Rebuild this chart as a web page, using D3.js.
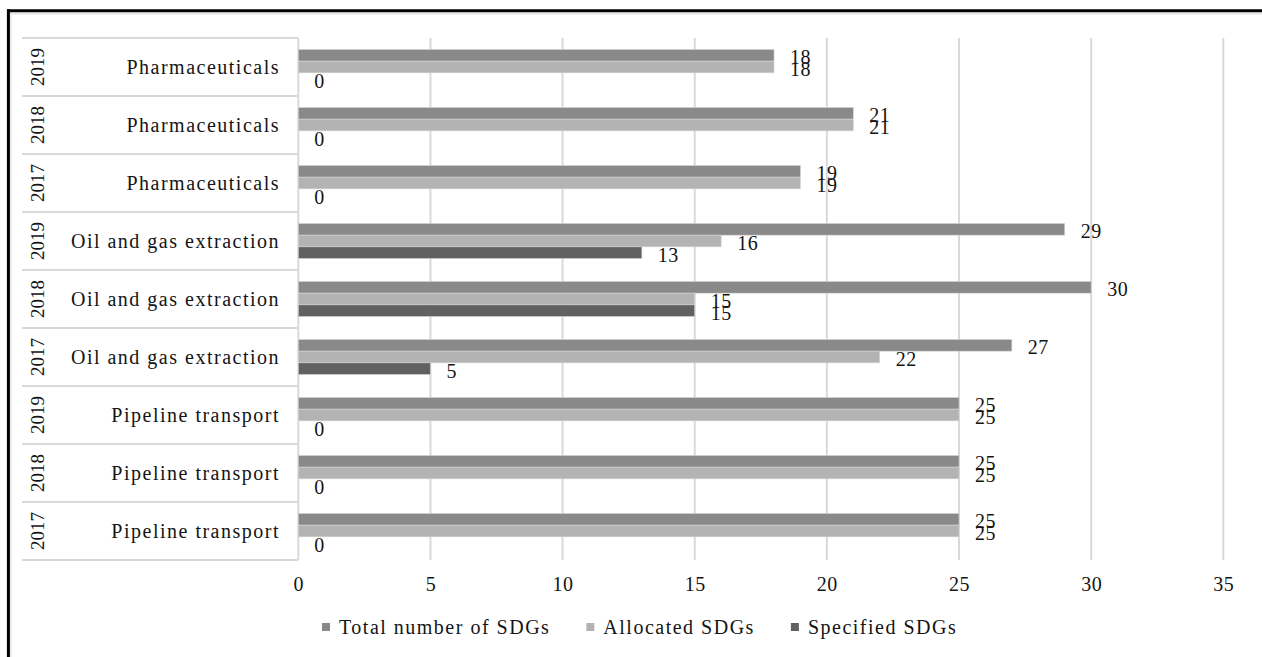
<!DOCTYPE html>
<html>
<head>
<meta charset="utf-8">
<script src="https://cdn.jsdelivr.net/npm/d3@7"></script>
<style>
  html, body { margin: 0; padding: 0; background: #fff; }
  svg { display: block; }
</style>
</head>
<body>
<svg id="chart" width="1262" height="657"></svg>
<script>
// Rows, listed top to bottom
const rowYears   = ["2019", "2018", "2017", "2019", "2018", "2017", "2019", "2018", "2017"];
const rowSectors = ["Pharmaceuticals", "Pharmaceuticals", "Pharmaceuticals",
                    "Oil and gas extraction", "Oil and gas extraction", "Oil and gas extraction",
                    "Pipeline transport", "Pipeline transport", "Pipeline transport"];

// Series values per row
const totalSDGs     = [18, 21, 19, 29, 30, 27, 25, 25, 25];
const allocatedSDGs = [18, 21, 19, 16, 15, 22, 25, 25, 25];
const specifiedSDGs = [0, 0, 0, 13, 15, 5, 0, 0, 0];

const seriesNames  = ["Total number of SDGs", "Allocated SDGs", "Specified SDGs"];
const seriesColors = ["#898989", "#b3b3b3", "#616161"];
const xTicks       = [0, 5, 10, 15, 20, 25, 30, 35];

const FONT = "'Liberation Serif', 'Times New Roman', Tinos, 'DejaVu Serif', serif";
const INK = "#141414";

const seriesValues = [totalSDGs, allocatedSDGs, specifiedSDGs];
const rows = rowYears.map((yr, i) => ({
  i, year: yr, sector: rowSectors[i],
  values: seriesNames.map((s, k) => ({ key: s, k, value: seriesValues[k][i] }))
}));

const svg = d3.select("#chart")
  .attr("font-family", FONT)
  .style("font-family", FONT);

// Frame
svg.append("line").attr("x1", 10).attr("x2", 1262).attr("y1", 13.8).attr("y2", 13.8)
  .attr("stroke", "#e4e4e4").attr("stroke-width", 1.5);
svg.append("line").attr("x1", 11).attr("x2", 11).attr("y1", 12).attr("y2", 657)
  .attr("stroke", "#e4e4e4").attr("stroke-width", 1.5);
svg.append("line").attr("x1", 7).attr("x2", 1262).attr("y1", 10.7).attr("y2", 10.7)
  .attr("stroke", "#000").attr("stroke-width", 3);
svg.append("line").attr("x1", 8.4).attr("x2", 8.4).attr("y1", 9.2).attr("y2", 657)
  .attr("stroke", "#000").attr("stroke-width", 3);

const plotTop = 38, plotBottom = 560;
const x = d3.scaleLinear().domain([0, 35]).range([298.3, 1223.3]);
const y = d3.scaleBand().domain(rows.map(r => r.i)).range([plotTop, plotBottom]);
const yInner = d3.scaleBand().domain(seriesNames).range([0, y.bandwidth()])
  .paddingInner(0).paddingOuter(0.98);

// Gridlines
svg.append("g").selectAll("line").data(xTicks).join("line")
  .attr("x1", d => x(d)).attr("x2", d => x(d))
  .attr("y1", plotTop).attr("y2", plotBottom)
  .attr("stroke", "#d9d9d9").attr("stroke-width", 2);

// Category table rules
const tableLeft = 22;
const bounds = rows.map(r => y(r.i)).concat([plotBottom]);
svg.append("g").selectAll("line").data(bounds).join("line")
  .attr("x1", tableLeft).attr("x2", x(0))
  .attr("y1", d => d).attr("y2", d => d)
  .attr("stroke", "#d9d9d9").attr("stroke-width", 2);

// Category labels
const catG = svg.append("g").attr("fill", INK);
catG.selectAll("text.sector").data(rows).join("text")
  .attr("class", "sector")
  .attr("x", 280)
  .attr("y", d => y(d.i) + y.bandwidth() / 2 + 7)
  .attr("text-anchor", "end")
  .attr("font-family", FONT)
  .attr("font-size", 20)
  .attr("letter-spacing", "1.5px")
  .text(d => d.sector);
catG.selectAll("text.year").data(rows).join("text")
  .attr("class", "year")
  .attr("transform", d => `translate(43.5,${y(d.i) + y.bandwidth() / 2}) rotate(-90)`)
  .attr("text-anchor", "middle")
  .attr("font-family", FONT)
  .attr("font-size", 19)
  .text(d => d.year);

// Bars
const barG = svg.append("g").selectAll("g").data(rows).join("g")
  .attr("transform", d => `translate(0,${y(d.i)})`);
barG.selectAll("rect").data(d => d.values).join("rect")
  .attr("x", x(0))
  .attr("y", d => yInner(d.key))
  .attr("width", d => x(d.value) - x(0))
  .attr("height", yInner.bandwidth())
  .attr("fill", d => seriesColors[d.k])
  .attr("stroke", d => d.value > 0 ? "#d6d6d6" : "none")
  .attr("stroke-width", 0.6);

// Value labels
barG.selectAll("text").data(d => d.values).join("text")
  .attr("x", d => x(d.value) + 16)
  .attr("y", d => yInner(d.key) + yInner.bandwidth() / 2 + 9)
  .attr("font-family", FONT)
  .attr("font-size", 20)
  .attr("fill", INK)
  .attr("letter-spacing", "0.5px")
  .text(d => d.value);

// X axis labels
const xAxis = d3.axisBottom(x).tickValues(xTicks).tickSize(0).tickPadding(17);
const axG = svg.append("g").attr("transform", `translate(0,${plotBottom})`).call(xAxis)
  .attr("font-family", FONT).attr("font-size", 20);
axG.select(".domain").remove();
axG.selectAll("text")
  .attr("fill", INK)
  .attr("letter-spacing", "0.5px");

// Legend
const legend = svg.append("g").attr("transform", "translate(322,627)");
let lx = 0;
seriesNames.forEach((name, k) => {
  const item = legend.append("g").attr("transform", `translate(${lx},0)`);
  item.append("rect").attr("x", 0).attr("y", -4).attr("width", 8).attr("height", 8)
    .attr("fill", seriesColors[k]);
  const t = item.append("text").attr("x", 17).attr("y", 7)
    .attr("font-family", FONT).attr("fill", INK)
    .attr("font-size", 20).attr("letter-spacing", "1.5px").text(name);
  lx += 17 + t.node().getComputedTextLength() + 36;
});
</script>
</body>
</html>
